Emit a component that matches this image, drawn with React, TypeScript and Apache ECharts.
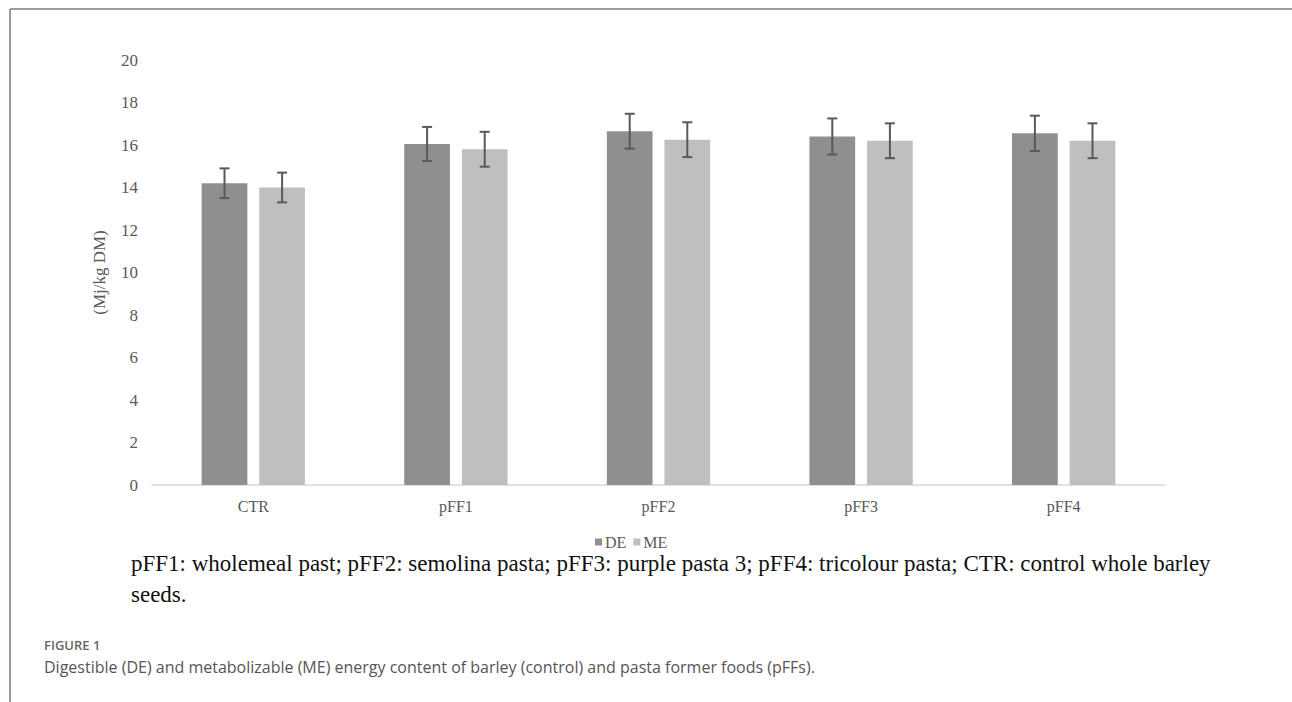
import React, { useEffect, useRef } from "react";
import * as echarts from "echarts";

const categories = ["CTR", "pFF1", "pFF2", "pFF3", "pFF4"];
const seriesNames = ["DE", "ME"];
const deValues = [14.2, 16.05, 16.65, 16.4, 16.55];
const meValues = [14.0, 15.8, 16.25, 16.2, 16.2];
const deErrors = [0.7, 0.8, 0.82, 0.85, 0.83];
const meErrors = [0.7, 0.82, 0.82, 0.82, 0.82];
const yTicks = [0, 2, 4, 6, 8, 10, 12, 14, 16, 18, 20];
const yAxisName = "(Mj/kg DM)";
const noteLine1 =
  "pFF1: wholemeal past; pFF2: semolina pasta; pFF3: purple pasta 3; pFF4: tricolour pasta; CTR: control whole barley";
const noteLine2 = "seeds.";
const figureLabel = "FIGURE 1";
const figureCaption =
  "Digestible (DE) and metabolizable (ME) energy content of barley (control) and pasta former foods (pFFs).";

const CAT_GAP = 0.49;
const BAR_GAP = 0.26;

export default function App() {
  const ref = useRef<HTMLDivElement>(null);
  useEffect(() => {
    if (!ref.current) return;
    const chart = echarts.init(ref.current, null, { renderer: "svg" });
    const serif = "'Liberation Serif', 'Times New Roman', serif";
    const errData = (vals: number[], errs: number[]) =>
      vals.map((v, i) => [i, v - errs[i], v + errs[i]]);
    const makeErr = (idx: number, vals: number[], errs: number[]) => ({
      type: "custom",
      name: seriesNames[idx] + " err",
      data: errData(vals, errs),
      encode: { x: 0, y: [1, 2] },
      z: 10,
      silent: true,
      renderItem: (params: any, api: any) => {
        const c = api.value(0);
        const lo = api.coord([c, api.value(1)]);
        const hi = api.coord([c, api.value(2)]);
        const band = api.size([1, 0])[0];
        const groupW = band * (1 - CAT_GAP);
        const w = groupW / (2 + BAR_GAP);
        const off = (w + BAR_GAP * w) / 2;
        const x = lo[0] + (idx === 0 ? -off : off);
        const cap = 5;
        const style = { stroke: "#595959", lineWidth: 2 };
        return {
          type: "group",
          children: [
            { type: "line", shape: { x1: x, y1: lo[1], x2: x, y2: hi[1] }, style },
            { type: "line", shape: { x1: x - cap, y1: hi[1], x2: x + cap, y2: hi[1] }, style },
            { type: "line", shape: { x1: x - cap, y1: lo[1], x2: x + cap, y2: lo[1] }, style },
          ],
        };
      },
    });
    chart.setOption({
      animation: false,
      backgroundColor: "#ffffff",
      grid: { left: 152, right: 127, top: 60, bottom: 217, containLabel: false },
      legend: {
        data: seriesNames,
        left: 590,
        top: 529,
        itemWidth: 7,
        itemHeight: 7,
        itemGap: 7,
        icon: "rect",
        textStyle: { fontFamily: serif, fontSize: 16, color: "#595959", padding: [0, 0, 0, -2] },
      },
      xAxis: {
        type: "category",
        data: categories,
        axisLine: { lineStyle: { color: "#d9d9d9", width: 1.5 } },
        axisTick: { show: false },
        axisLabel: { fontFamily: serif, fontSize: 16, color: "#595959", margin: 13 },
      },
      yAxis: {
        type: "value",
        min: yTicks[0],
        max: yTicks[yTicks.length - 1],
        interval: yTicks[1] - yTicks[0],
        name: yAxisName,
        nameLocation: "middle",
        nameGap: 44,
        nameRotate: 90,
        nameTextStyle: { fontFamily: serif, fontSize: 17, color: "#595959" },
        axisLine: { show: false },
        axisTick: { show: false },
        splitLine: { show: false },
        axisLabel: { fontFamily: serif, fontSize: 17, color: "#595959", margin: 14 },
      },
      series: [
        {
          type: "bar",
          name: seriesNames[0],
          data: deValues,
          itemStyle: { color: "#8f8f8f" },
          barCategoryGap: CAT_GAP * 100 + "%",
          barGap: BAR_GAP * 100 + "%",
        },
        {
          type: "bar",
          name: seriesNames[1],
          data: meValues,
          itemStyle: { color: "#bfbfbf" },
          barCategoryGap: CAT_GAP * 100 + "%",
          barGap: BAR_GAP * 100 + "%",
        },
        makeErr(0, deValues, deErrors),
        makeErr(1, meValues, meErrors),
      ],
      graphic: [
        { type: "line", shape: { x1: 10, y1: 9, x2: 1292, y2: 9 }, style: { stroke: "#7a7a7a", lineWidth: 1.5 } },
        { type: "line", shape: { x1: 10, y1: 9, x2: 10, y2: 702 }, style: { stroke: "#7a7a7a", lineWidth: 1.5 } },
        {
          type: "text",
          left: 131,
          top: 552,
          style: { text: noteLine1, fontFamily: serif, fontSize: 23, fill: "#111111" },
        },
        {
          type: "text",
          left: 131,
          top: 583,
          style: { text: noteLine2, fontFamily: serif, fontSize: 23, fill: "#111111" },
        },
        {
          type: "text",
          left: 44,
          top: 638,
          style: { text: figureLabel, fontFamily: "'Open Sans', sans-serif", fontSize: 13, fontWeight: 600, fill: "#666666" },
        },
        {
          type: "text",
          left: 44,
          top: 659,
          style: { text: figureCaption, fontFamily: "'Open Sans', sans-serif", fontSize: 16, fill: "#555555" },
        },
      ],
    });
    return () => chart.dispose();
  }, []);
  return (
    <div
      ref={ref}
      style={{ position: "fixed", left: 0, top: 0, width: 1292, height: 702, background: "#fff" }}
    />
  );
}
